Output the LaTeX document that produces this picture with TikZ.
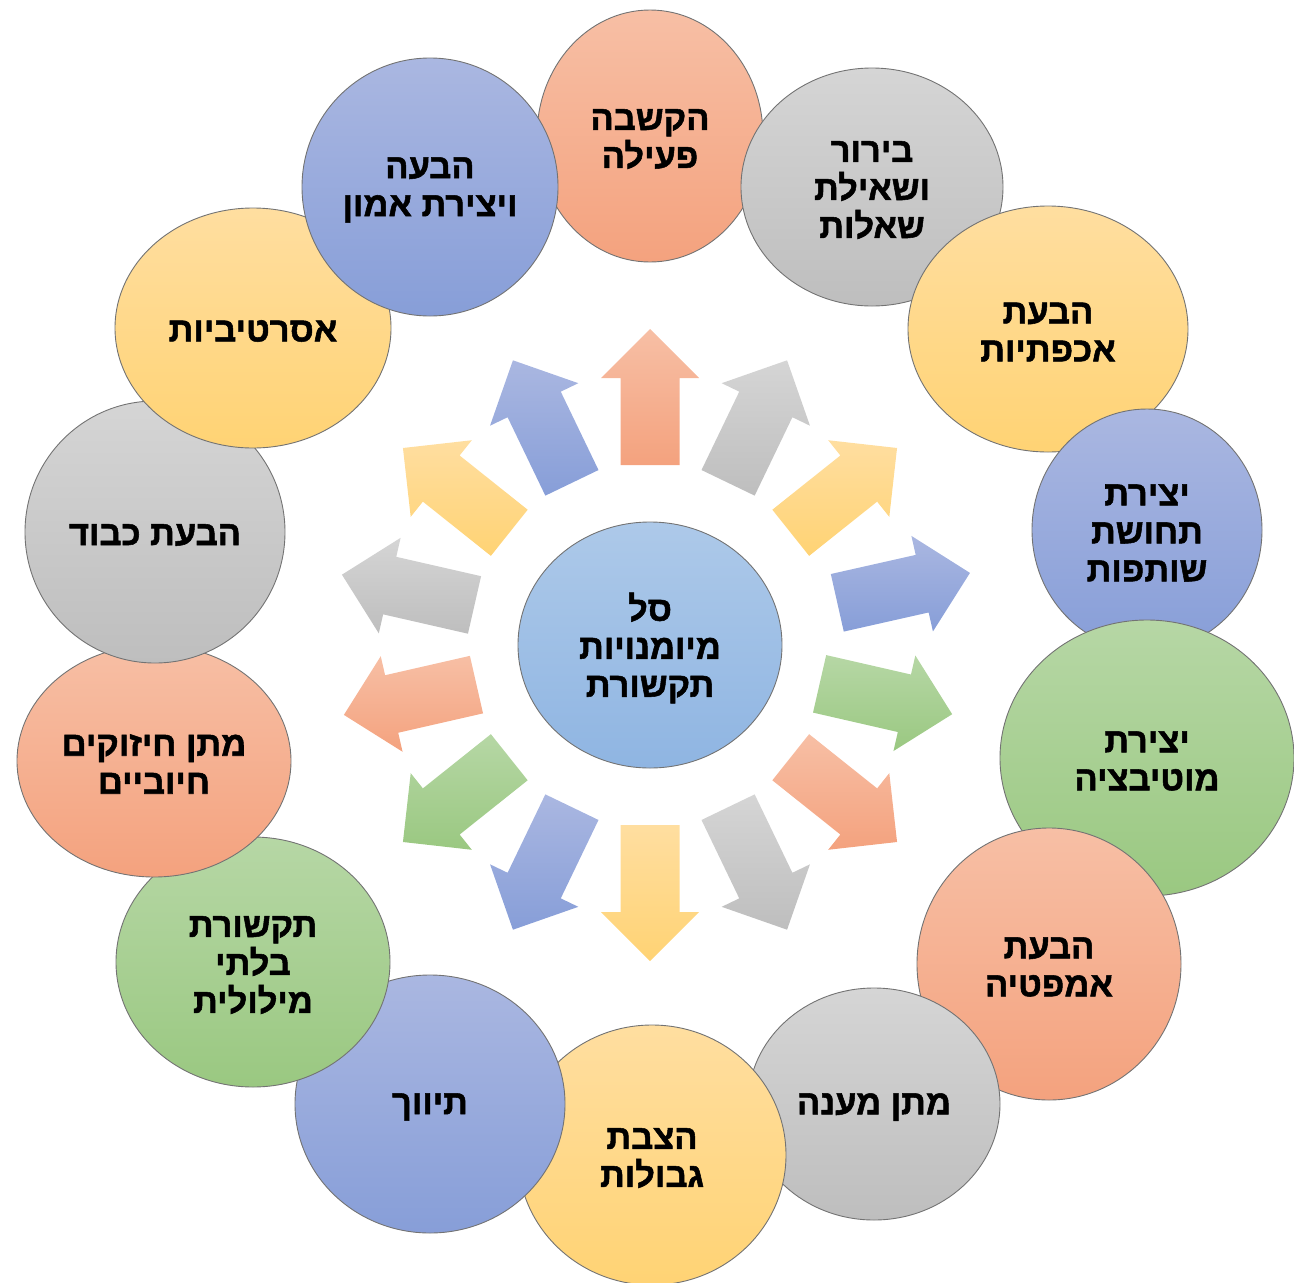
\documentclass[tikz,border=0pt]{standalone}
\usepackage{fontspec}
\newfontfamily\heb[Script=Hebrew, BoldFont={Liberation Sans Bold}, BoldFeatures={FakeBold=1.5}]{Liberation Sans}
\TeXXeTstate=1
\newcommand\RL[1]{\beginR #1\endR}
\definecolor{salT}{HTML}{F7BFA5}\definecolor{salB}{HTML}{F4A27E}
\definecolor{gryT}{HTML}{D5D5D5}\definecolor{gryB}{HTML}{BEBEBE}
\definecolor{yelT}{HTML}{FFDEA0}\definecolor{yelB}{HTML}{FFD374}
\definecolor{bluT}{HTML}{AAB7E1}\definecolor{bluB}{HTML}{879ED8}
\definecolor{grnT}{HTML}{B6D7A5}\definecolor{grnB}{HTML}{9AC881}
\definecolor{cenT}{HTML}{ADC9E9}\definecolor{cenB}{HTML}{8FB5E2}
\newcommand\bub[7]{%
  \shade[top color=#6T, bottom color=#6B, draw=black!55, line width=0.9pt] (#2,#3) ellipse [x radius=#4, y radius=#5];
  \node[lbl] (#1) at (#2,#3) {#7};}
\begin{document}
\begin{tikzpicture}[x=1pt,y=-1pt,
  lbl/.style={font=\heb\bfseries\fontsize{34.5}{38}\selectfont, align=center, inner sep=0pt, yshift=-3pt}]
\useasboundingbox (0,0) rectangle (1294,1283);
% arrows: angle / colour / start radius
\foreach \t/\c/\s in {90/sal/180, 64.29/gry/180, 38.57/yel/180, 12.7/blu/192, -12.9/grn/174, -38.57/sal/180, -64.29/gry/180, -90/yel/180, -115.71/blu/180, -141.43/grn/180, -167.14/sal/178, 167.14/gry/180, 141.43/yel/180, 115.71/blu/180}
  \shade[top color=\c T, bottom color=\c B, shift={(650,645)}, rotate=\t]
    (\s,-29.5) -- ({\s+87},-29.5) -- ({\s+87},-49) -- ({\s+136},0) -- ({\s+87},49) -- ({\s+87},29.5) -- (\s,29.5) -- cycle;
% center
\bub{c}{650}{645}{132}{123}{cen}{\RL{סל}\\\RL{מיומנויות}\\\RL{תקשורת}}
% outer circles
\bub{b1}{650}{136}{113}{126}{sal}{\RL{הקשבה}\\\RL{פעילה}}
\bub{b2}{872}{187}{131}{119}{gry}{\RL{בירור}\\\RL{ושאילת}\\\RL{שאלות}}
\bub{b3}{1048}{329}{140}{123}{yel}{\RL{הבעת}\\\RL{אכפתיות}}
\bub{b4}{1147}{530}{115}{121}{blu}{\RL{יצירת}\\\RL{תחושת}\\\RL{שותפות}}
\bub{b5}{1147}{758}{147}{138}{grn}{\RL{יצירת}\\\RL{מוטיבציה}}
\bub{b6}{1049}{964}{132}{136}{sal}{\RL{הבעת}\\\RL{אמפטיה}}
\bub{b7}{874}{1104}{126}{116}{gry}{\RL{מתן מענה}}
\bub{b8}{652}{1155}{134}{130}{yel}{\RL{הצבת}\\\RL{גבולות}}
\bub{b9}{430}{1104}{135}{129}{blu}{\RL{תיווך}}
\bub{b10}{253}{962}{137}{125}{grn}{\RL{תקשורת}\\\RL{בלתי}\\\RL{מילולית}}
\bub{b11}{154}{761}{137}{116}{sal}{\RL{מתן חיזוקים}\\\RL{חיוביים}}
\bub{b12}{155}{532}{130}{131}{gry}{\RL{הבעת כבוד}}
\bub{b13}{253}{328}{138}{120}{yel}{\RL{אסרטיביות}}
\bub{b14}{430}{187}{128}{129}{blu}{\RL{הבעה}\\\RL{ויצירת אמון}}
\end{tikzpicture}
\end{document}
